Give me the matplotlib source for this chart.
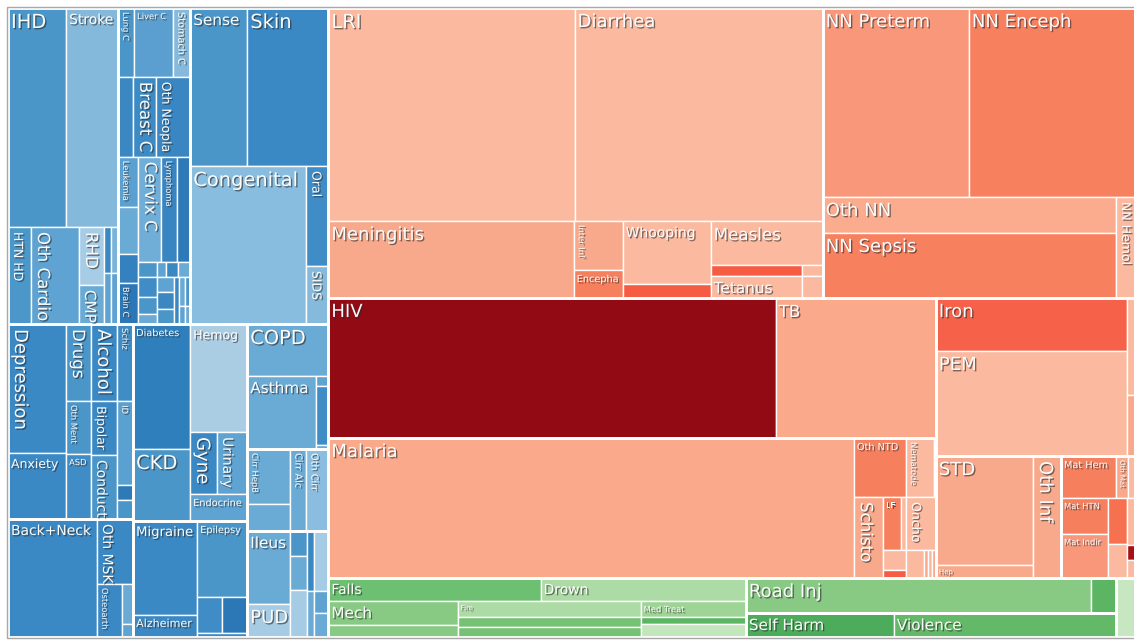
import matplotlib
matplotlib.use("Agg")
import matplotlib.pyplot as plt
from matplotlib.patches import Rectangle
import matplotlib.patheffects as pe

# ---------------- data: burden by cause (arbitrary units) -------------
cardio_names = ["IHD", "Stroke", "HTN HD", "Oth Cardio", "RHD", "CMP", "", "", "", ""]
cardio_vals = [127.0, 113.9, 22.3, 46.6, 14.5, 9.8, 3.2, 3.6, 3.2, 3.6]

cancer_names = ["Lung C", "Liver C", "Stomach C", "", "Breast C", "Oth Neopla",
                "Leukemia", "", "", "Brain C", "Cervix C", "Lymphoma", "",
                "", "", "", "", "", "", "", "", "", "", "", "", "", "", ""]
cancer_vals = [11.0, 26.9, 11.7, 12.0, 18.4, 27.2,
               10.0, 9.4, 5.8, 8.2, 24.2, 16.8, 13.7,
               2.9, 1.4, 1.8, 1.8, 3.8, 3.2, 1.9, 2.6, 2.9, 2.6, 2.4, 1.7, 1.1, 1.5, 0.9]

skin_names = ["Sense", "Skin", "Congenital", "Oral", "SIDS"]
skin_vals = [90.1, 128.0, 183.3, 22.0, 12.8]

mental_names = ["Depression", "Anxiety", "Drugs", "Oth Ment", "ASD", "Alcohol", "Bipolar",
                "Conduct", "Schiz", "ID", "", ""]
mental_vals = [74.8, 38.3, 19.3, 13.3, 16.3, 20.0, 14.0, 16.6, 12.3, 13.4, 2.4, 3.0]

msk_names = ["Back+Neck", "Oth MSK", "Osteoarth", "", ""]
msk_vals = [105.0, 23.4, 13.3, 4.4, 1.4]

othncd_names = ["Diabetes", "CKD", "Hemog", "Gyne", "Urinary", "Endocrine"]
othncd_vals = [71.3, 41.0, 61.6, 16.7, 18.6, 15.4]

neuro_names = ["Migraine", "Alzheimer", "Epilepsy", "", "", ""]
neuro_vals = [60.2, 14.1, 38.0, 9.0, 9.0, 2.0]

resp_names = ["COPD", "Asthma", "", "", ""]
resp_vals = [42.1, 50.4, 1.2, 7.1, 0.5]

cirr_names = ["Cirr HepB", "", "Cirr Alc", "Oth Cirr"]
cirr_vals = [23.7, 11.6, 13.1, 18.0]

digest_names = ["Ileus", "PUD", "", "", "", "", "", "", "", ""]
digest_vals = [31.4, 14.2, 4.3, 5.8, 8.0, 4.2, 3.2, 8.4, 3.1, 3.4]

diarlri_names = ["LRI", "Diarrhea", "Meningitis", "Inter Inf", "Encepha", "Whooping", "",
                 "Measles", "", "Tetanus", "", ""]
diarlri_vals = [524.0, 528.2, 188.7, 24.0, 13.7, 55.4, 12.3, 49.3, 10.0, 20.0, 2.3, 4.6]

neonatal_names = ["NN Preterm", "NN Enceph", "Oth NN", "NN Sepsis", "NN Hemol"]
neonatal_vals = [275.9, 313.7, 105.5, 190.5, 19.2]

hivtb_names = ["HIV", "TB"]
hivtb_vals = [625.8, 224.0]

ntdmal_names = ["Malaria", "Oth NTD", "Nematode", "", "Schisto", "LF", "", "", "", "Oncho",
                "", "", "", ""]
ntdmal_vals = [735.0, 30.7, 16.5, 1.2, 23.5, 9.5, 2.7, 4.6, 1.8, 15.9, 5.0, 1.1, 1.1, 1.1]

nutrition_names = ["Iron", "PEM", "", ""]
nutrition_vals = [101.2, 200.6, 7.8, 4.9]

othinf_names = ["STD", "Hep", "Oth Inf"]
othinf_vals = [105.7, 12.6, 34.2]

maternal_names = ["Mat Hem", "Oth Mat", "", "Mat HTN", "Mat Indir", "", "", "", "", ""]
maternal_vals = [23.1, 5.0, 2.9, 16.9, 20.7, 8.7, 6.5, 3.8, 1.2, 1.4]

unintent_names = ["Falls", "Drown", "Mech", "", "Fire", "", "", "Med Treat", "", ""]
unintent_vals = [48.8, 47.2, 31.0, 15.5, 29.3, 18.3, 18.3, 16.8, 7.4, 13.7]

transport_names = ["Road Inj", ""]
transport_vals = [120.8, 8.8]

intent_names = ["Self Harm", "Violence"]
intent_vals = [35.5, 53.3]

injother_names = [""]
injother_vals = [11.2]

# ---------------- styles (colours per cell) ----------------
cardio_colors = ['#4a96c9', '#84b9dc', '#4b97c9', '#5ea3d2', '#a6cce6', '#6aabd6',
                 '#3a87c2', '#5ea3d2', '#79b3da', '#5ea3d2']
cancer_colors = ['#4a96c9', '#5a9fcf', '#86badc', '#3a87c2', '#3d8bc5', '#3a86c2',
                 '#5aa0d0', '#6aabd6', '#3580bf', '#2c77b6', '#70aed8', '#3985c1', '#2e79b8',
                 '#4a96c9', '#5ea3d2', '#3a87c2', '#6aabd6', '#3f8cc6', '#4a96c9', '#6aabd6',
                 '#5ea3d2', '#3a87c2', '#4a96c9', '#3a87c2', '#6aabd6', '#5ea3d2', '#4a96c9',
                 '#6aabd6']
skin_colors = ['#4a96c9', '#3a88c4', '#88bddf', '#3f8cc6', '#86badc']
mental_colors = ['#3a88c4', '#3a88c4', '#4a96c9', '#4a96c9', '#3f8cc6', '#3a88c4', '#3a88c4',
                 '#4a96c9', '#3f8cc6', '#5aa0d0', '#2e79b8', '#4a96c9']
msk_colors = ['#3a88c4', '#3a88c4', '#3a88c4', '#6aabd6', '#5ea3d2']
othncd_colors = ['#2f7fbd', '#4a96c9', '#aacde4', '#3a88c4', '#5ea3d2', '#5ea3d2']
neuro_colors = ['#3a88c4', '#3a88c4', '#4a96c9', '#3f8cc6', '#2c77b6', '#3a88c4']
resp_colors = ['#6aabd6', '#6aabd6', '#5ea3d2', '#3f8cc6', '#6aabd6']
cirr_colors = ['#6aabd6', '#6aabd6', '#6aabd6', '#8abde0']
digest_colors = ['#6aabd6', '#a5cbe5', '#4a96c9', '#6aabd6', '#a5cbe5', '#3a87c2', '#6aabd6',
                 '#a5cbe5', '#5ea3d2', '#6aabd6']
diarlri_colors = ['#fbb99f', '#fbb99f', '#f9a98b', '#f9a98b', '#f6805e', '#fbb99f', '#f65c43',
                  '#fbb99f', '#f65c43', '#fbb99f', '#fbb99f', '#fbb99f']
neonatal_colors = ['#f8977a', '#f7805f', '#fbac8e', '#f7805f', '#fbb99f']
hivtb_colors = ['#920a13', '#faa98b']
ntdmal_colors = ['#faa98b', '#f6805e', '#fbb99f', '#b8a0c8', '#f9a98b', '#f6805e', '#fbb99f',
                 '#fbb99f', '#f65c43', '#fbb99f', '#fbb99f', '#f9a98b', '#fbb99f', '#f9a98b']
nutrition_colors = ['#f6614a', '#fbb99f', '#fbb99f', '#f9a98b']
othinf_colors = ['#f9a98b', '#f9a98b', '#f9a98b']
maternal_colors = ['#f6805e', '#f9a98b', '#fbb99f', '#f6805e', '#f8977a', '#f6714f', '#fbb99f',
                   '#fbb99f', '#a50f15', '#fbb99f']
unintent_colors = ['#6dbf71', '#acdba5', '#88ca84', '#88ca84', '#acdba5', '#75c274', '#75c274',
                   '#9fd497', '#5cb563', '#c4e6bd']
transport_colors = ['#88ca84', '#5cb563']
intent_colors = ['#4dab5c', '#63b968']
injother_colors = ['#c6e7c0']

# ---------------- layout structure (nesting / split direction only) ----------------
groups = {
    'cardio': (cardio_names, cardio_vals, cardio_colors,
               ('v', [('h', [0, 1]), ('h', [2, 3, ('v', [4, 5]), ('h', [('v', [6, 7]), ('v', [8, 9])])])])),
    'cancer': (cancer_names, cancer_vals, cancer_colors,
               ('v', [('h', [0, 1, 2]), ('h', [3, 4, 5]),
                      ('h', [('v', [6, 7, 8, 9]),
                             ('v', [('h', [10, 11, 12]),
                                    ('v', [('h', [13, 14, 15, 16]),
                                           ('h', [('v', [17, 18, 19]), ('v', [20, 21, 22]),
                                                  ('h', [23, ('v', [24, 25]), ('v', [26, 27])])])])])])])),
    'skin': (skin_names, skin_vals, skin_colors, ('v', [('h', [0, 1]), ('h', [2, ('v', [3, 4])])])),
    'mental': (mental_names, mental_vals, mental_colors,
               ('h', [('v', [0, 1]), ('v', [2, 3, 4]), ('v', [5, 6, 7]), ('v', [8, 9, 10, 11])])),
    'msk': (msk_names, msk_vals, msk_colors, ('h', [0, ('v', [1, ('h', [2, ('v', [3, 4])])])])),
    'othncd': (othncd_names, othncd_vals, othncd_colors,
               ('h', [('v', [0, 1]), ('v', [2, ('h', [3, 4]), 5])])),
    'neuro': (neuro_names, neuro_vals, neuro_colors,
              ('h', [('v', [0, 1]), ('v', [2, ('h', [3, 4]), 5])])),
    'resp': (resp_names, resp_vals, resp_colors, ('v', [0, ('h', [1, ('v', [2, 3, 4])])])),
    'cirr': (cirr_names, cirr_vals, cirr_colors, ('h', [('v', [0, 1]), 2, 3])),
    'digest': (digest_names, digest_vals, digest_colors,
               ('h', [('v', [0, 1]), ('v', [2, 3, 4]), ('h', [('v', [5, 6]), ('v', [7, 8, 9])])])),
    'diarlri': (diarlri_names, diarlri_vals, diarlri_colors,
                ('v', [('h', [0, 1]),
                       ('h', [2, ('v', [3, 4]), ('v', [5, 6]),
                              ('v', [7, ('h', [('v', [8, 9]), ('v', [10, 11])])])])])),
    'neonatal': (neonatal_names, neonatal_vals, neonatal_colors,
                 ('v', [('h', [0, 1]), ('h', [('v', [2, 3]), 4])])),
    'hivtb': (hivtb_names, hivtb_vals, hivtb_colors, ('h', [0, 1])),
    'ntdmal': (ntdmal_names, ntdmal_vals, ntdmal_colors,
               ('h', [0, ('v', [('h', [1, 2, 3]),
                                ('h', [4, ('v', [('h', [5, 6]), ('v', [7, 8])]),
                                       ('v', [9, ('h', [10, 11, 12, 13])])])])])),
    'nutrition': (nutrition_names, nutrition_vals, nutrition_colors,
                  ('h', [('v', [0, 1]), ('v', [2, 3])])),
    'othinf': (othinf_names, othinf_vals, othinf_colors, ('h', [('v', [0, 1]), 2])),
    'maternal': (maternal_names, maternal_vals, maternal_colors,
                 ('v', [('h', [0, 1, 2]), ('h', [('v', [3, 4]), ('v', [5, 6]), ('v', [7, 8, 9])])])),
    'unintent': (unintent_names, unintent_vals, unintent_colors,
                 ('v', [('h', [0, 1]), ('h', [('v', [2, 3]), ('v', [4, 5, 6]), ('v', [7, 8, 9])])])),
    'transport': (transport_names, transport_vals, transport_colors, ('h', [0, 1])),
    'intent': (intent_names, intent_vals, intent_colors, ('h', [0, 1])),
    'injother': (injother_names, injother_vals, injother_colors, ('h', [0])),
}

META = ('h', [
    ('v', [('h', ['cardio', 'cancer', 'skin']),
           ('h', [('v', ['mental', 'msk']), ('v', ['othncd', 'neuro']),
                  ('v', ['resp', 'cirr', 'digest'])])]),
    ('v', [('v', [('h', ['diarlri', 'neonatal']),
                  ('h', [('v', ['hivtb', 'ntdmal']),
                         ('v', ['nutrition', ('h', ['othinf', 'maternal'])])])]),
           ('h', ['unintent', ('v', ['transport', 'intent']), 'injother'])]),
])

VERTICAL = {"Lung C", "Stomach C", "Breast C", "Oth Neopla", "Leukemia", "Cervix C", "Lymphoma",
            "Brain C", "Oral", "SIDS", "HTN HD", "Oth Cardio", "RHD", "CMP", "Depression", "Drugs",
            "Alcohol", "Schiz", "Oth Ment", "Bipolar", "ID", "Conduct", "Oth MSK", "Osteoarth",
            "Gyne", "Urinary", "Cirr HepB", "Cirr Alc", "Oth Cirr", "Inter Inf", "NN Hemol",
            "Nematode", "Schisto", "Oncho", "Oth Inf", "Oth Mat"}
FONT = {"IHD": 14, "Stroke": 10, "Lung C": 6, "Liver C": 6, "Stomach C": 7, "Sense": 11, "Skin": 14,
        "Breast C": 12, "Oth Neopla": 10, "Leukemia": 6, "Cervix C": 12, "Lymphoma": 6, "Brain C": 6,
        "Congenital": 14, "Oral": 9, "SIDS": 9, "HTN HD": 9, "Oth Cardio": 12, "RHD": 12, "CMP": 11,
        "Depression": 13, "Drugs": 12, "Alcohol": 13, "Schiz": 6, "Oth Ment": 6, "Bipolar": 9,
        "ID": 6, "Anxiety": 9, "ASD": 6, "Conduct": 11, "Back+Neck": 10, "Oth MSK": 10,
        "Osteoarth": 6, "Diabetes": 7, "Hemog": 9, "Gyne": 13, "Urinary": 10, "Endocrine": 7,
        "CKD": 14, "Migraine": 10, "Alzheimer": 8, "Epilepsy": 7, "COPD": 14, "Asthma": 11,
        "Cirr HepB": 6, "Cirr Alc": 7, "Oth Cirr": 7, "Ileus": 11, "PUD": 13,
        "LRI": 14, "Diarrhea": 13, "Meningitis": 13, "Inter Inf": 6, "Encepha": 7, "Whooping": 10,
        "Measles": 12, "Tetanus": 11, "NN Preterm": 13, "NN Enceph": 13, "Oth NN": 13,
        "NN Sepsis": 13, "NN Hemol": 9, "HIV": 13, "TB": 12, "Iron": 13, "PEM": 13, "Malaria": 13,
        "Oth NTD": 7, "Nematode": 6, "Schisto": 12, "LF": 6, "Oncho": 9, "STD": 13, "Hep": 6,
        "Oth Inf": 13, "Mat Hem": 7, "Oth Mat": 6, "Mat HTN": 6, "Mat Indir": 6,
        "Falls": 10, "Drown": 10, "Mech": 11, "Fire": 5, "Med Treat": 6, "Road Inj": 13,
        "Self Harm": 11, "Violence": 11}

# ---------------- treemap layout (slice and dice along the given nesting) ----------------
def node_total(node, gkey):
    if isinstance(node, str):
        return sum(groups[node][1])
    if isinstance(node, int):
        return groups[gkey][1][node]
    return sum(node_total(c, gkey) for c in node[1])


leaves, group_boxes = [], []


def layout(node, x, y, w, h, gkey=None):
    if isinstance(node, str):
        group_boxes.append((x, y, w, h))
        layout(groups[node][3], x, y, w, h, node)
        return
    if isinstance(node, int):
        leaves.append((gkey, node, x, y, w, h))
        return
    d, children = node
    tots = [node_total(c, gkey) for c in children]
    T = sum(tots)
    acc = 0.0
    for c, t in zip(children, tots):
        if d == 'h':
            layout(c, x + w * acc / T, y, w * t / T, h, gkey)
        else:
            layout(c, x, y + h * acc / T, w, h * t / T, gkey)
        acc += t


W, H = 1134, 640
fig = plt.figure(figsize=(W / 100, H / 100), dpi=100)
ax = fig.add_axes([0, 0, 1, 1])
ax.set_xlim(0, W)
ax.set_ylim(H, 0)
ax.axis('off')

X0, Y0, TW, TH = 8, 8, 1127, 629
layout(META, X0, Y0, TW, TH)

for gkey, i, x, y, w, h in leaves:
    ax.add_patch(Rectangle((x, y), w, h, facecolor=groups[gkey][2][i],
                           edgecolor='white', linewidth=1.0))
for x, y, w, h in group_boxes:
    ax.add_patch(Rectangle((x, y), w, h, facecolor='none', edgecolor='white', linewidth=2.0))

# outer frame
ax.add_patch(Rectangle((X0 - 1, Y0 - 1), TW + 10, TH + 2, facecolor='none',
                       edgecolor='#a8a8a8', linewidth=1.0))

renderer = fig.canvas.get_renderer()
shadow = [pe.withSimplePatchShadow(offset=(1, -1), shadow_rgbFace='#2a2a2a', alpha=0.6)]
for gkey, i, x, y, w, h in leaves:
    name = groups[gkey][0][i]
    if not name:
        continue
    vert = name in VERTICAL
    fs = FONT.get(name, 8)
    pad = 3
    top_pad = pad + (2 if fs >= 9 else 1)
    t = ax.text(x + pad, y + top_pad, name, rotation=-90 if vert else 0, ha='left', va='top',
                fontsize=fs, color='#fbfbfb', family='DejaVu Sans', path_effects=shadow)
    bb = t.get_window_extent(renderer)
    while (bb.width > w - 2 * pad + 2 or bb.height > h - top_pad - pad + 3) and fs > 4.5:
        fs -= 0.5
        t.set_fontsize(fs)
        bb = t.get_window_extent(renderer)

fig.savefig('out.png', dpi=100, facecolor='white')
